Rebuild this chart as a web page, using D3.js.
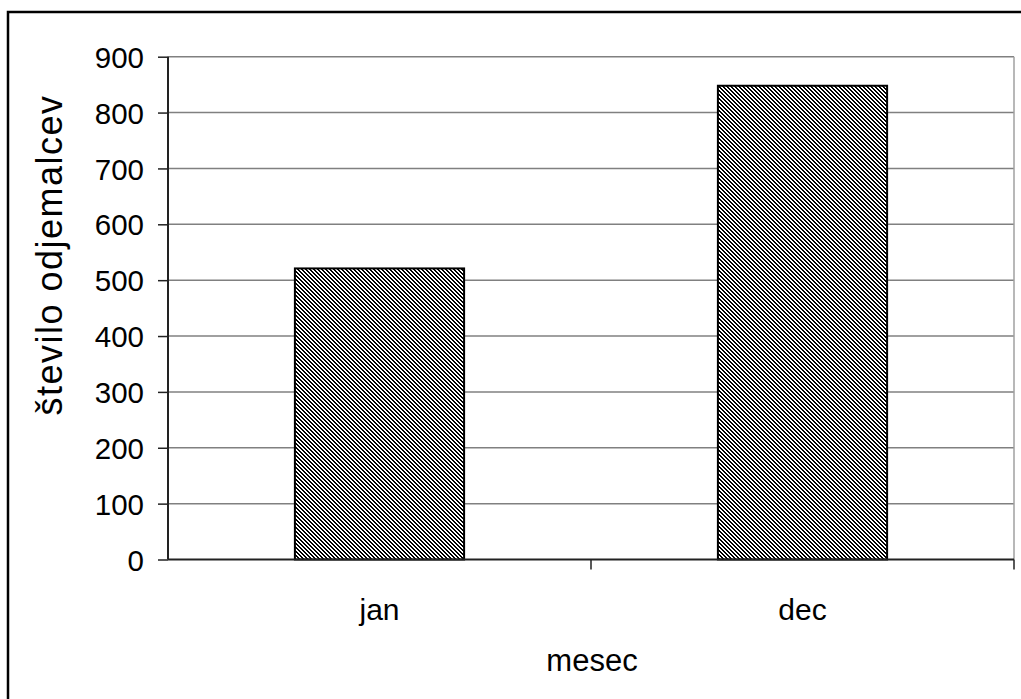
<!DOCTYPE html>
<html><head><meta charset="utf-8">
<script src="https://cdn.jsdelivr.net/npm/d3@7"></script>
<style>body{margin:0;background:#fff}svg{display:block}text{font-family:"Liberation Sans",Arial,sans-serif;fill:#000}</style>
</head><body>
<svg id="c" width="1021" height="699"></svg>
<script>
const categories = ["jan", "dec"];
const values = [521, 848];
const yTicks = [0, 100, 200, 300, 400, 500, 600, 700, 800, 900];
const xTitle = "mesec";
const yTitle = "število odjemalcev";

const svg = d3.select("#c");
const L = 168, R = 1014, T = 56.7, B = 559.5;

const defs = svg.append("defs");
const pat = defs.append("pattern").attr("id","hatch").attr("patternUnits","userSpaceOnUse")
  .attr("width",4).attr("height",4);
pat.append("rect").attr("width",4).attr("height",4).attr("fill","#fff");
for (let i=0;i<4;i++){
  pat.append("rect").attr("x",i).attr("y",i).attr("width",1).attr("height",1).attr("fill","#000");
  pat.append("rect").attr("x",(i+1)%4).attr("y",i).attr("width",1).attr("height",1).attr("fill","#000");
}

// outer border
svg.append("rect").attr("x",8).attr("y",12).attr("width",1040).attr("height",720)
  .attr("fill","none").attr("stroke","#000").attr("stroke-width",2.5);

const x = d3.scaleBand().domain(categories).range([L,R]).paddingInner(0).paddingOuter(0);
const y = d3.scaleLinear().domain([0,900]).range([B,T]);

// gridlines
svg.append("g").selectAll("line").data(yTicks.filter(d=>d>0)).join("line")
  .attr("x1",L).attr("x2",R).attr("y1",d=>y(d)).attr("y2",d=>y(d))
  .attr("stroke","#808080").attr("stroke-width",1.5);
// right plot border
svg.append("line").attr("x1",R).attr("x2",R).attr("y1",T).attr("y2",B)
  .attr("stroke","#a0a0a0").attr("stroke-width",1.5);

// bars
const bw = x.bandwidth()/2.5;
svg.append("g").selectAll("rect").data(values).join("rect")
  .attr("x",(d,i)=>x(categories[i])+x.bandwidth()/2-bw/2)
  .attr("y",d=>y(d)).attr("width",bw).attr("height",d=>B-y(d))
  .attr("fill","url(#hatch)").attr("stroke","#000").attr("stroke-width",2);

// y axis
const ya = d3.axisLeft(y).tickValues(yTicks).tickSize(10).tickPadding(14);
const gy = svg.append("g").attr("transform",`translate(${L},0)`).call(ya);
gy.select(".domain").attr("stroke","#222").attr("stroke-width",2).attr("d",`M0,${T}V${B}`);
gy.selectAll(".tick line").attr("stroke","#222").attr("stroke-width",1.5);
gy.selectAll(".tick text").style("font-size","29.5px").attr("dy","0.36em");

// x axis
const xa = d3.axisBottom(x).tickSize(0).tickPadding(0);
const gx = svg.append("g").attr("transform",`translate(0,${B})`).call(xa);
gx.select(".domain").attr("stroke","#222").attr("stroke-width",2).attr("d",`M${L},0H${R}`);
gx.selectAll(".tick text").style("font-size","30px").attr("y",50).attr("dy","0.36em");
// category boundary ticks
const bounds = [x(categories[1]), R];
gx.selectAll(".bt").data(bounds).join("line").attr("class","bt")
  .attr("x1",d=>d).attr("x2",d=>d).attr("y1",0).attr("y2",10)
  .attr("stroke","#222").attr("stroke-width",1.5);
gx.selectAll(".tick").attr("transform",d=>`translate(${x(d)+x.bandwidth()/2},0)`);

svg.append("text").attr("x",592).attr("y",660).attr("text-anchor","middle")
  .attr("dy","0.36em").style("font-size","31px").text(xTitle);
svg.append("text").attr("transform","translate(49,255) rotate(-90)").attr("text-anchor","middle")
  .attr("dy","0.36em").style("font-size","36px").style("letter-spacing","1.5px").text(yTitle);
</script>
</body></html>
